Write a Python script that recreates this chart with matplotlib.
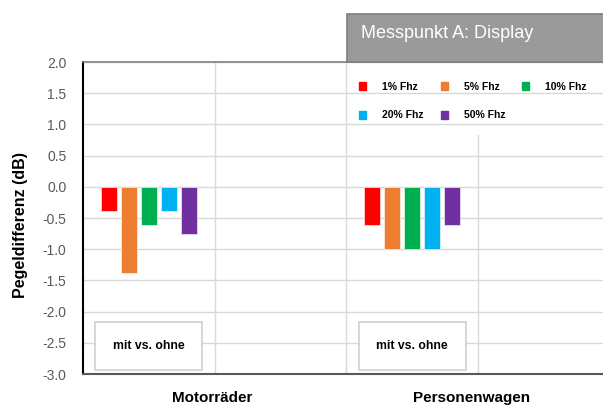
import numpy as np
import matplotlib.pyplot as plt
from matplotlib.patches import Rectangle, Patch

plt.rcParams['font.family'] = ['Liberation Sans', 'DejaVu Sans']

# Daten
kategorien = ['Motorräder', 'Personenwagen']
serien = ['1% Fhz', '5% Fhz', '10% Fhz', '20% Fhz', '50% Fhz']
farben = ['#ff0000', '#ed7d31', '#00b050', '#00b0f0', '#7030a0']
werte_motorraeder = [-0.38, -1.38, -0.62, -0.38, -0.75]
werte_personenwagen = [-0.62, -1.0, -1.0, -1.0, -0.62]
box_text = 'mit vs. ohne'
titel = 'Messpunkt A: Display'
y_ticks = np.arange(-3.0, 2.01, 0.5)

werte = np.array([werte_motorraeder, werte_personenwagen])

fig = plt.figure(figsize=(6.03, 4.05), dpi=100)
ax = fig.add_axes([83 / 603, 31 / 405, 526.5 / 603, 312 / 405])

x = np.arange(len(kategorien))
breite = 0.061
schritt = 0.076
offset0 = -0.403
for i, (name, farbe) in enumerate(zip(serien, farben)):
    ax.bar(x + offset0 + i * schritt, werte[:, i], breite, color=farbe,
           label=name, edgecolor='white', linewidth=0.4, zorder=3)

ax.set_xlim(-0.5, 1.5)
ax.set_ylim(-3.0, 2.0)
ax.set_yticks(y_ticks)
ax.set_yticklabels([f'{v:.1f}' for v in y_ticks], color='#595959', fontsize=10)
ax.tick_params(axis='y', length=0, pad=12)
ax.tick_params(axis='x', length=0, pad=12)
ax.set_xticks([-0.01, 0.975])
ax.set_xticklabels(kategorien, fontsize=11, fontweight='bold')
ax.grid(True, axis='y', color='#d9d9d9', linewidth=1, zorder=0)
for xv in [0, 0.5, 1.0, 1.5]:
    ax.axvline(xv, color='#d9d9d9', linewidth=1, zorder=0)

ax.spines['left'].set_color('black')
ax.spines['left'].set_linewidth(1.5)
ax.spines['bottom'].set_color('#595959')
ax.spines['bottom'].set_linewidth(1.5)
ax.spines['top'].set_color('#7f7f7f')
ax.spines['top'].set_linewidth(1.2)
ax.spines['right'].set_visible(False)

ax.set_ylabel('Pegeldifferenz (dB)', fontsize=11.5, fontweight='bold')
ax.yaxis.set_label_coords(-0.105, 0.479)

# Kästen "mit vs. ohne"
for xc in [-0.25, 0.75]:
    ax.text(xc, -2.55, box_text, ha='center', va='center', fontsize=8.8,
            fontweight='bold', zorder=5,
            bbox=dict(boxstyle='square,pad=1.45', fc='white', ec='#d0d0d0', lw=1.2))

# Titelbox
fig.patches.append(Rectangle((347 / 603, 343 / 405), 0.45, 48 / 405,
                             transform=fig.transFigure, fc='#9a9a9a',
                             ec='#7f7f7f', lw=1.2, zorder=5))
fig.text(361 / 603, 371 / 405, titel, color='white', fontsize=13,
         va='center', ha='left', zorder=6)

# weisser Hintergrund der Legende
ax.add_patch(Rectangle((352 / 603, 270 / 405), 245 / 603, 73 / 405,
                       transform=fig.transFigure, fc='white', ec='none', zorder=1))

# Legende (Reihenfolge so, dass zeilenweise gelesen wird)
reihenfolge = [0, 3, 1, 4, 2]
handles = [Patch(color=farben[i], label=serien[i]) for i in reihenfolge]
leg = ax.legend(handles=handles, ncol=3, loc='upper left',
                bbox_to_anchor=(359 / 603, 323 / 405), bbox_transform=fig.transFigure,
                prop={'size': 7.5, 'weight': 'bold'}, frameon=False,
                handlelength=0.7, handleheight=0.8, handletextpad=1.5,
                columnspacing=1.65, labelspacing=1.75, borderpad=0,
                borderaxespad=0)

fig.savefig('out.png', dpi=100)
